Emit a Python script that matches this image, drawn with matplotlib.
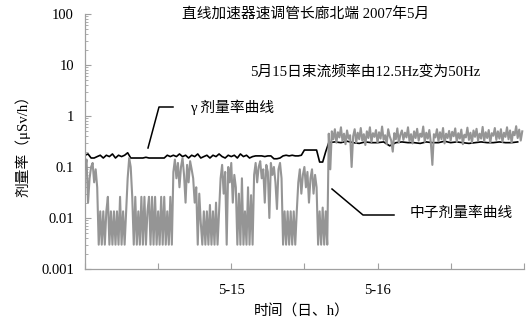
import numpy as np
import matplotlib
matplotlib.use('Agg')
import matplotlib.pyplot as plt
from matplotlib.lines import Line2D
from matplotlib.ticker import LogLocator, FixedLocator, NullFormatter

plt.rcParams['font.family'] = ['Liberation Serif', 'Noto Sans CJK SC']

## neutron dose rate, one reading every 15 min (uSv/h)
neutron_before = [
    0.09, 0.14,
    0.02, 0.06, 0.1,
    0.12, 0.05, 0.09, 0.04, 0.003,
    0.0135, 0.003, 0.0135, 0.003, 0.0135, 0.026, 0.003, 0.0135, 0.003,
    0.0135, 0.003, 0.0135, 0.003, 0.026, 0.003, 0.0135, 0.003, 0.0135,
    0.06, 0.15, 0.1,
    0.026, 0.003, 0.026, 0.003, 0.0135, 0.003, 0.026, 0.003, 0.026,
    0.003, 0.0135, 0.026, 0.003, 0.026, 0.003, 0.026, 0.003, 0.0135,
    0.003, 0.026, 0.003, 0.026, 0.003, 0.0135, 0.003, 0.026, 0.003,
    0.08, 0.14, 0.06, 0.12, 0.04, 0.1, 0.15, 0.07, 0.02, 0.11, 0.05, 0.13, 0.09,
    0.06, 0.02, 0.04, 0.003, 0.03, 0.008, 0.003, 0.0135, 0.003, 0.0135,
    0.003, 0.018, 0.003, 0.0135, 0.003, 0.02, 0.003, 0.0135,
    0.06, 0.11, 0.03, 0.08, 0.003, 0.1, 0.05, 0.12, 0.02, 0.07, 0.04,
    0.003, 0.03, 0.003, 0.06, 0.003, 0.0135, 0.003, 0.04, 0.003, 0.028, 0.003,
    0.07, 0.12, 0.05, 0.1, 0.13, 0.06, 0.09, 0.02, 0.11, 0.08, 0.01,
    0.12, 0.07, 0.1, 0.05, 0.015, 0.09, 0.12, 0.06, 0.003, 0.0135, 0.003,
    0.0135, 0.003, 0.0135, 0.003, 0.0135, 0.003, 0.0135,
    0.05, 0.09, 0.03, 0.07, 0.1, 0.04, 0.08, 0.02, 0.06, 0.09, 0.03, 0.07, 0.04,
    0.003, 0.0135, 0.003, 0.016, 0.003, 0.0135, 0.003,
]
neutron_after = [
    0.45, 0.09, 0.5, 0.35, 0.55, 0.3, 0.48, 0.38, 0.6, 0.32, 0.45, 0.28, 0.52, 0.36, 0.42, 0.1,
    0.4, 0.55, 0.3, 0.47, 0.35, 0.58, 0.33, 0.44, 0.27, 0.5, 0.37, 0.6, 0.31, 0.46, 0.39, 0.53,
    0.3, 0.48, 0.36, 0.62, 0.34, 0.42, 0.28, 0.55, 0.4, 0.33, 0.2, 0.46, 0.35, 0.57, 0.3, 0.43,
    0.52, 0.34, 0.47, 0.38, 0.6, 0.32, 0.44, 0.29, 0.5, 0.37, 0.56, 0.33, 0.45, 0.39, 0.62, 0.31,
    0.47, 0.36, 0.53, 0.3, 0.11, 0.44, 0.38, 0.55, 0.32, 0.48, 0.35, 0.58, 0.29, 0.45, 0.37, 0.51,
    0.33, 0.49, 0.4, 0.57, 0.31, 0.46, 0.36, 0.54, 0.28, 0.43, 0.38, 0.59, 0.34, 0.47, 0.3, 0.52,
    0.39, 0.56, 0.33, 0.45, 0.36, 0.61, 0.32, 0.48, 0.37, 0.53, 0.3, 0.46, 0.41, 0.58, 0.34, 0.5,
    0.36, 0.55, 0.31, 0.47, 0.39, 0.6, 0.35, 0.52, 0.3, 0.49, 0.42, 0.63, 0.37, 0.54, 0.33, 0.5,
]

## gamma dose rate, every 30 min before the change, hourly after
gamma_before = [
    0.17, 0.18, 0.15, 0.15,
    0.16, 0.17, 0.15, 0.17, 0.16, 0.18, 0.15, 0.17, 0.16, 0.17,
    0.19,
    0.15, 0.15, 0.15, 0.15, 0.15, 0.155, 0.15, 0.15, 0.15, 0.15, 0.15, 0.15,
    0.17, 0.16,
    0.17, 0.16, 0.18, 0.16, 0.17, 0.15, 0.17, 0.16, 0.18, 0.15,
    0.16, 0.17, 0.15, 0.17, 0.16, 0.18, 0.16, 0.15, 0.17, 0.16,
    0.17, 0.15, 0.18, 0.16, 0.17, 0.15, 0.16,
    0.165, 0.165, 0.165, 0.16, 0.165, 0.165,
    0.145, 0.145, 0.15,
    0.165, 0.17, 0.165, 0.17, 0.165, 0.165, 0.17,
    0.215, 0.215, 0.215, 0.215, 0.215,
    0.125, 0.125, 0.2,
]
gamma_after = [
    0.3, 0.31, 0.3, 0.32, 0.3, 0.29, 0.31, 0.3, 0.3, 0.31, 0.26, 0.3, 0.31, 0.3, 0.3, 0.29,
    0.31, 0.3, 0.3, 0.32, 0.3, 0.31, 0.3, 0.29, 0.3, 0.31, 0.3, 0.3, 0.31, 0.3, 0.3, 0.31,
]

change_hour = 40.0
tick_hours = [0, 12, 24, 36, 48, 60, 72]
tick_labels = ['', '', '5-15', '', '5-16', '', '']
ytick_values = [0.001, 0.01, 0.1, 1, 10, 100]
ytick_labels = ['0.001', '0.01', '0.1', '1', '10', '100']

neutron = np.array(neutron_before + neutron_after)
t_neutron = np.arange(len(neutron)) * 0.25
gamma = np.array(gamma_before + gamma_after)
t_gamma = np.concatenate([np.arange(len(gamma_before)) * 0.5,
                          change_hour + np.arange(len(gamma_after)) * 1.0])

fig = plt.figure(figsize=(5.28, 3.22), dpi=100)
ax = fig.add_axes([0.161, 0.1646, 0.831, 0.792])

ax.plot(t_gamma, gamma, color='black', lw=1.2, zorder=2)
ax.plot(t_neutron, neutron, color='#959595', lw=1.5, zorder=3)

ax.set_yscale('log')
ax.set_ylim(0.001, 100)
ax.set_xlim(0, 72)
ax.yaxis.set_major_locator(FixedLocator(ytick_values))
ax.set_yticklabels(ytick_labels)
ax.yaxis.set_minor_locator(LogLocator(base=10, subs=np.arange(2, 10), numticks=20))
ax.yaxis.set_minor_formatter(NullFormatter())
ax.set_xticks(tick_hours)
ax.set_xticklabels(tick_labels)

for side in ['top', 'right']:
    ax.spines[side].set_visible(False)
for side in ['left', 'bottom']:
    ax.spines[side].set_color('#a0a0a0')
    ax.spines[side].set_linewidth(0.9)
ax.tick_params(axis='both', which='both', direction='in', color='#a0a0a0')
ax.tick_params(axis='y', which='major', length=4, pad=8, labelsize=10.5)
ax.tick_params(axis='y', which='minor', length=2)
ax.tick_params(axis='x', which='major', length=4, pad=11, labelsize=10.5)

## texts
fs = 10.6
fig.text(0.578, 0.953, '直线加速器速调管长廊北端 2007年5月', ha='center', va='center', fontsize=fs)
fig.text(0.473, 0.776, '5月15日束流频率由12.5Hz变为50Hz', ha='left', va='center', fontsize=fs)
fig.text(0.36, 0.668, 'γ 剂量率曲线', ha='left', va='center', fontsize=fs)
fig.text(0.775, 0.339, '中子剂量率曲线', ha='left', va='center', fontsize=fs)
fig.text(0.042, 0.559, '剂量率（μSv/h）', rotation=90, ha='center', va='center', fontsize=fs)
fig.text(0.572, 0.031, '时间（日、h）', ha='center', va='center', fontsize=fs)

## leader lines (pixel positions in the 528x322 figure)
W, H = 528.0, 322.0
for xs, ys in [([148, 159, 173], [148, 107, 107]), ([332, 363, 394], [189, 215, 215])]:
    fig.add_artist(Line2D([x / W for x in xs], [1 - y / H for y in ys],
                          transform=fig.transFigure, color='black', lw=1.1))

plt.savefig('out.png', dpi=100)
